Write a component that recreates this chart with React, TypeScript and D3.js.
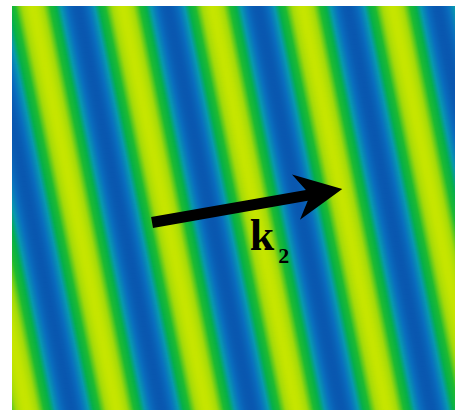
import React from 'react';
import * as d3 from 'd3';

// plane wave field, lengths in wavelengths
const fieldX = [0, 5.03];
const fieldY = [0, 4.59];
const waveAngleDeg = 11.75; // direction of k2, measured up from +x
const wavelength = 1;
const crestOffset = 0.223; // where cos(k.r) = 1 along k

// colour map (value -1 .. 1)
const colorDomain = [-1, -0.75, -0.4, -0.05, 0.35, 0.75, 1];
const colorRange = ['#0a58b0', '#0a6ebe', '#0898b0', '#06b04a', '#20bb30', '#a2da0a', '#c6e500'];

// annotation
const arrowTail = [1.59, 2.46];
const arrowTip = [3.75, 2.08];
const labelPos = [2.70, 2.77];
const labelMain = 'k';
const labelSub = '2';

const W = 455;
const H = 413;
const frame = { left: 12, top: 6, right: 455, bottom: 410 };

const App = () => {
  const x = d3.scaleLinear().domain(fieldX).range([frame.left, frame.right]);
  const y = d3.scaleLinear().domain(fieldY).range([frame.top, frame.bottom]);
  const color = d3.scaleLinear<string>().domain(colorDomain).range(colorRange).interpolate(d3.interpolateRgb);
  const pxPerUnit = x(1) - x(0);

  // bands perpendicular to k, 1px step, overlapping so no seams show
  const bands = d3.range(-200, 720, 1).map((u) => {
    const p = u / pxPerUnit;
    const v = Math.cos((2 * Math.PI * (p - crestOffset)) / wavelength);
    return { u, fill: color(v) };
  });

  const tx = x(arrowTail[0]);
  const ty = y(arrowTail[1]);
  const hx = x(arrowTip[0]);
  const hy = y(arrowTip[1]);
  const len = Math.hypot(hx - tx, hy - ty);
  const ang = (Math.atan2(hy - ty, hx - tx) * 180) / Math.PI;
  const headLen = 47;
  const headHalf = 23;
  const shaftHalf = 5.5;
  const notch = 36;
  const arrowPath = [
    [0, -shaftHalf],
    [len - notch, -shaftHalf],
    [len - headLen, -headHalf],
    [len, 0],
    [len - headLen, headHalf],
    [len - notch, shaftHalf],
    [0, shaftHalf],
  ];

  return (
    <svg width={W} height={H} style={{ position: 'absolute', left: 0, top: 0, background: '#fff' }}>
      <defs>
        <clipPath id="field-clip">
          <rect x={frame.left} y={frame.top} width={frame.right - frame.left} height={frame.bottom - frame.top} />
        </clipPath>
      </defs>
      <g clipPath="url(#field-clip)">
        <g transform={`translate(${x(0)},${y(0)}) rotate(${-waveAngleDeg})`}>
          {bands.map((b) => (
            <rect key={b.u} x={b.u} y={-700} width={3} height={1400} fill={b.fill} />
          ))}
        </g>
      </g>
      <g transform={`translate(${tx},${ty}) rotate(${ang})`}>
        <path d={d3.line()(arrowPath as [number, number][]) + 'Z'} fill="#000" />
      </g>
      <text
        x={x(labelPos[0])}
        y={y(labelPos[1])}
        fontFamily="'Liberation Serif', 'DejaVu Serif', serif"
        fontWeight="bold"
        fontSize={44}
        fill="#000"
      >
        {labelMain}
        <tspan fontSize={22} dx={4} dy={13}>
          {labelSub}
        </tspan>
      </text>
    </svg>
  );
};

export default App;
